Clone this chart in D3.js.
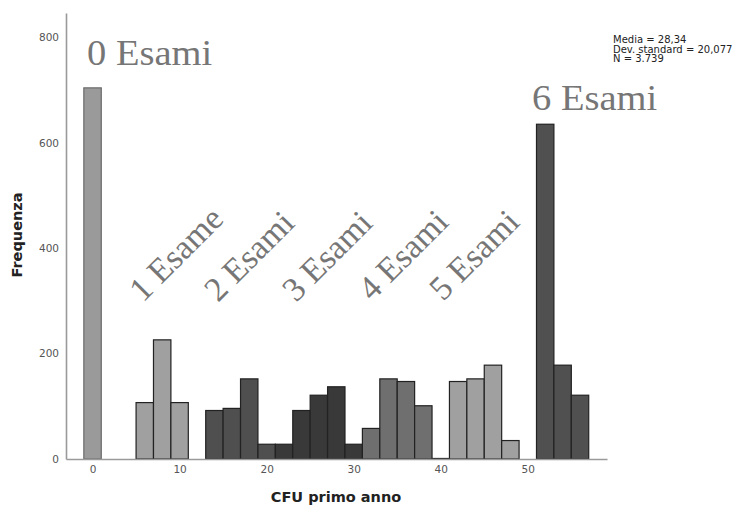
<!DOCTYPE html>
<html><head><meta charset="utf-8">
<script src="https://cdn.jsdelivr.net/npm/d3@7"></script>
<style>body{margin:0;background:#fff}</style>
</head><body>
<svg id="chart" width="743" height="508"></svg>
<script>
// ---- data ----
const binCenters = [0,6,8,10,14,16,18,20,22,24,26,28,30,32,34,36,38,40,42,44,46,48,52,54,56];
const counts     = [704,107,226,107,92,96,152,28,28,92,121,137,28,58,152,147,101,1,147,152,178,35,635,178,121];
const examGroup  = [0,1,1,1,2,2,2,2,3,3,3,3,3,4,4,4,4,4,5,5,5,5,6,6,6];
const binWidth = 2;
const xTicks = [0,10,20,30,40,50];
const yTicks = [0,200,400,600,800];
const groupLabels = ["0 Esami","1 Esame","2 Esami","3 Esami","4 Esami","5 Esami","6 Esami"];
const statsLines = ["Media = 28,34","Dev. standard = 20,077","N = 3.739"];
const xTitle = "CFU primo anno";
const yTitle = "Frequenza";

// ---- styles ----
const groupFill = ["#9a9a9a","#a0a0a0","#4f4f4f","#393939","#6f6f6f","#a0a0a0","#505050"];
const svg = d3.select("#chart");
const x = d3.scaleLinear().domain([-3.05, 59.1]).range([66, 607]);
const y = d3.scaleLinear().domain([0, 846]).range([459, 13]);

// bars
svg.append("g").selectAll("rect").data(binCenters).join("rect")
  .attr("x", (d) => x(d - binWidth/2))
  .attr("width", (d) => x(d + binWidth/2) - x(d - binWidth/2))
  .attr("y", (d,i) => y(counts[i]))
  .attr("height", (d,i) => y(0) - y(counts[i]))
  .attr("fill", (d,i) => groupFill[examGroup[i]])
  .attr("stroke", (d,i) => examGroup[i] === 0 ? "#6a6a6a" : "#222")
  .attr("stroke-width", 1.2);

// axes
const xAxis = svg.append("g").attr("transform", `translate(0,${y(0)})`)
  .call(d3.axisBottom(x).tickValues(xTicks).tickSize(0).tickPadding(7));
const yAxis = svg.append("g").attr("transform", `translate(${x.range()[0]},0)`)
  .call(d3.axisLeft(y).tickValues(yTicks).tickSize(0).tickPadding(7));
[xAxis, yAxis].forEach(a => {
  a.select(".domain").attr("stroke", "#9a9a9a").attr("stroke-width", 1.6);
  a.selectAll("text").attr("font-family", "DejaVu Sans, sans-serif")
    .attr("font-size", 10.5).attr("fill", "#555");
});

// axis titles
svg.append("text").attr("x", 336).attr("y", 502).attr("text-anchor", "middle")
  .attr("font-family", "DejaVu Sans, sans-serif").attr("font-weight", "bold")
  .attr("font-size", 14.5).attr("fill", "#222").text(xTitle);
svg.append("text").attr("transform", "translate(22,235) rotate(-90)").attr("text-anchor", "middle")
  .attr("font-family", "DejaVu Sans, sans-serif").attr("font-weight", "bold")
  .attr("font-size", 14.5).attr("fill", "#222").text(yTitle);

// stats box
svg.append("g").selectAll("text").data(statsLines).join("text")
  .attr("x", 613).attr("y", (d,i) => 43 + i*9.6)
  .attr("font-family", "DejaVu Sans, sans-serif").attr("font-size", 10)
  .attr("fill", "#222").text(d => d);

// group annotations
const serif = "Liberation Serif, Times New Roman, serif";
const annFill = "#767676";
svg.append("text").attr("transform", "translate(87,65) scale(1.07,1)").attr("font-family", serif)
  .attr("font-size", 36).attr("fill", annFill).text(groupLabels[0]);
svg.append("text").attr("transform", "translate(532,110) scale(1.07,1)").attr("font-family", serif)
  .attr("font-size", 36).attr("fill", annFill).text(groupLabels[6]);
const rotStarts = [[143,303],[218,303],[296,303],[372,302],[443,302]];
svg.append("g").selectAll("text").data(rotStarts).join("text")
  .attr("transform", d => `translate(${d[0]},${d[1]}) rotate(-45)`)
  .attr("font-family", serif).attr("font-size", 34).attr("fill", annFill)
  .text((d,i) => groupLabels[i+1]);
</script>
</body></html>
